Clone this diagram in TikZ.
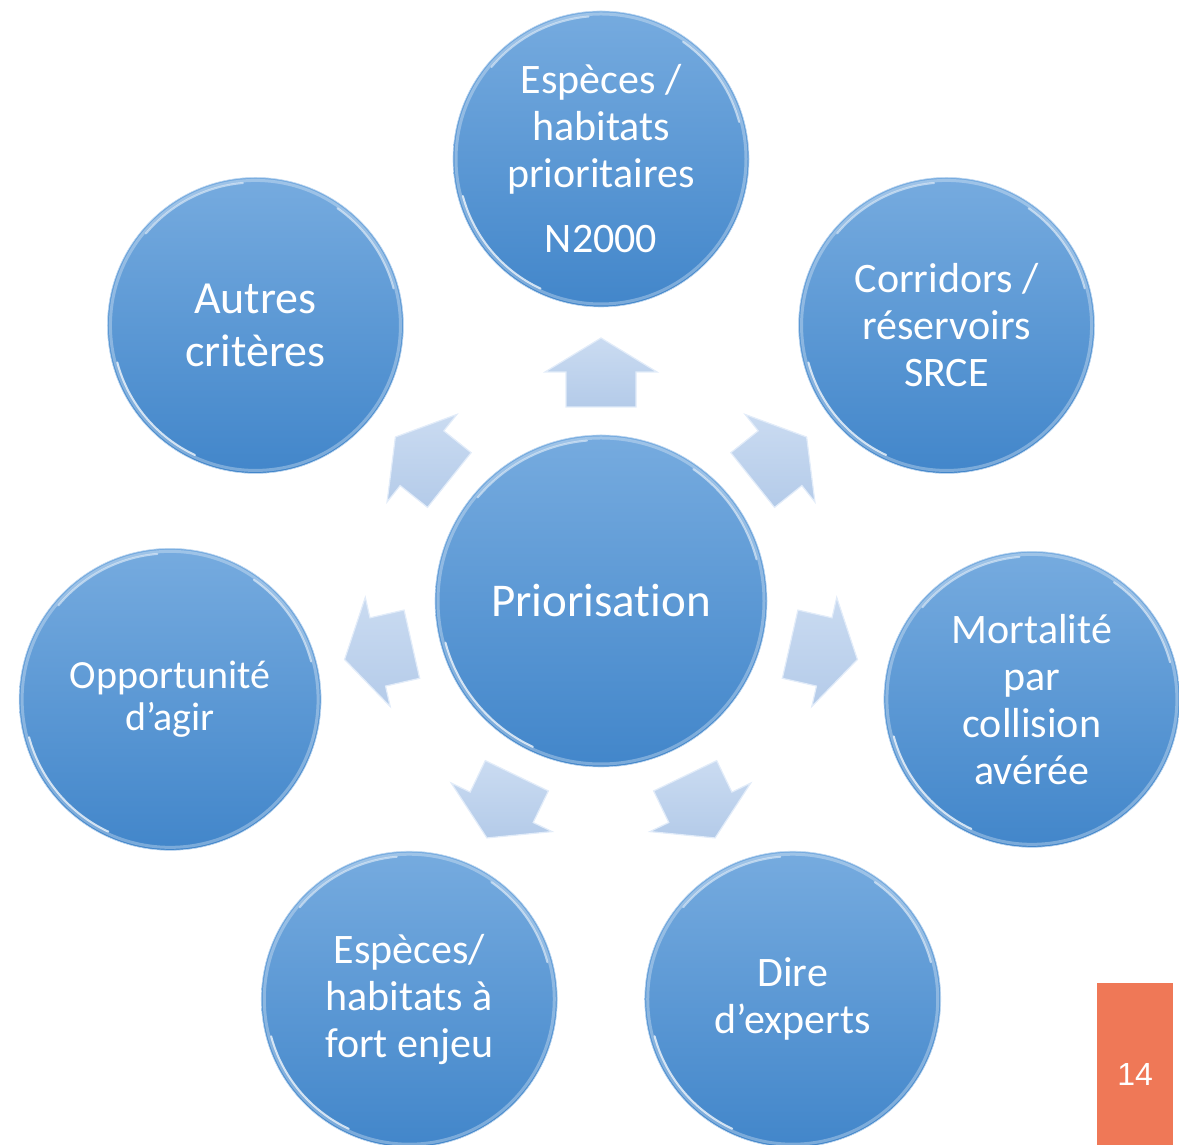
\documentclass[tikz,border=0pt]{standalone}
\usepackage{fontspec}
\setmainfont{Carlito}[Ligatures=NoCommon]
\newfontfamily\numfont{Liberation Sans}
\usetikzlibrary{calc}
\definecolor{ctop}{RGB}{118,171,223}
\definecolor{cbot}{RGB}{66,134,202}
\definecolor{arrtop}{RGB}{202,219,241}
\definecolor{arrbot}{RGB}{180,203,233}
\definecolor{arredge}{RGB}{226,236,249}
\definecolor{orangebox}{RGB}{239,120,87}
\tikzset{
  bubble/.style={circle, minimum size=296pt, inner sep=0pt, top color=ctop, bottom color=cbot,
    draw=ctop!45!white, line width=0.6pt, text=white, align=center,
    font=\fontsize{42}{47}\selectfont},
  bigbubble/.style={bubble, minimum size=332pt, font=\fontsize{47}{56}\selectfont},
  blockarrow/.style={top color=arrtop, bottom color=arrbot, draw=arredge, line width=1.2pt, line join=miter},
  rimsoft/.style={white, opacity=0.3, line width=3pt},
  rimbright/.style={white, opacity=0.75, line width=2pt, line cap=round},
}
\begin{document}
\begin{tikzpicture}[x=1pt,y=1pt]
\useasboundingbox (0,0) rectangle (1179,1145);
\coordinate (o) at (601,544);
\node[bigbubble] (c) at (o) {Priorisation};
\node[bubble] (n1) at ($(o)+(90:442)$) {Espèces /\\habitats\\prioritaires\\[18pt]N2000};
\node[bubble] (n2) at ($(o)+(38.57:442)$) {Corridors /\\réservoirs\\SRCE};
\node[bubble] (n3) at ($(o)+(-12.86:442)$) {Mortalité\\par\\collision\\avérée};
\node[bubble] (n4) at ($(o)+(-64.29:442)$) {Dire\\d’experts};
\node[bubble] (n5) at ($(o)+(-115.71:442)$) {Espèces/\\habitats à\\fort enjeu};
\node[bubble, minimum size=302pt, font=\fontsize{40}{42}\selectfont] (n6) at ($(o)+(192.86:442)$) {Opportunité\\d’agir};
\node[bubble, font=\fontsize{46}{53}\selectfont] (n7) at ($(o)+(141.43:442)$) {Autres\\critères};
% glossy rims
\foreach \n/\r in {c/166, n1/148, n2/148, n3/148, n4/148, n5/148, n6/151, n7/148} {
  \pgfmathsetmacro\rs{\r-3}
  \pgfmathsetmacro\rb{\r-5}
  \draw[rimsoft] (\n) circle[radius=\rs];
  \draw[rimbright] ($(\n)+(195:\rb)$) arc (195:245:\rb);
  \draw[rimbright, opacity=0.5] ($(\n)+(95:\rb)$) arc (95:140:\rb);
  \draw[rimbright, opacity=0.55] ($(\n)+(15:\rb)$) arc (15:55:\rb);
}
% block arrows
\foreach \a in {90, 38.57, -12.86, -64.29, -115.71, 192.86, 141.43} {
  \begin{scope}[shift={(o)}, rotate=\a]
    \path[blockarrow] (194,-35) -- (229,-35) -- (229,-56) -- (263,0) -- (229,56) -- (229,35) -- (194,35) -- cycle;
  \end{scope}
}
% page number box
\node[fill=orangebox, minimum width=76pt, minimum height=162pt, inner sep=0pt, anchor=south west] (pg) at (1097,0) {};
\node[text=white, font=\numfont\fontsize{32}{32}\selectfont] (num) at ($(pg.center)+(0,-11)$) {14};
\end{tikzpicture}
\end{document}
